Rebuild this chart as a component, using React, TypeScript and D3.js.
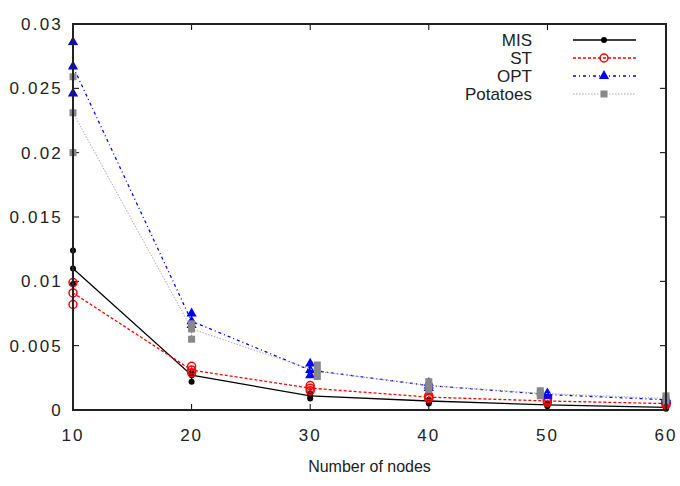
import React from 'react';
import * as d3 from 'd3';

const nodes = [10, 20, 30, 40, 50, 60];
const potatoNodes = [10, 20, 30.6, 40, 49.4, 60];

const misMean = [0.011, 0.0027, 0.0011, 0.0007, 0.0004, 0.0002];
const misLow = [0.0098, 0.0022, 0.0009, 0.0005, 0.0003, 0.0001];
const misHigh = [0.0124, 0.0029, 0.0013, 0.0008, 0.0005, 0.0003];

const stMean = [0.0091, 0.0031, 0.0017, 0.001, 0.0007, 0.0005];
const stLow = [0.0082, 0.0029, 0.0015, 0.0009, 0.0006, 0.0004];
const stHigh = [0.0099, 0.0034, 0.0019, 0.0011, 0.0008, 0.0006];

const optMean = [0.0267, 0.0069, 0.0031, 0.0019, 0.0012, 0.0008];
const optLow = [0.0246, 0.0066, 0.0027, 0.0017, 0.0011, 0.0007];
const optHigh = [0.0286, 0.0075, 0.0036, 0.0021, 0.0013, 0.0009];

const potMean = [0.0231, 0.0063, 0.003, 0.0019, 0.0013, 0.0009];
const potLow = [0.02, 0.0055, 0.0026, 0.0016, 0.0011, 0.0007];
const potHigh = [0.0259, 0.0067, 0.0035, 0.0022, 0.0015, 0.0011];

const xTicks = [10, 20, 30, 40, 50, 60];
const yTicks = [0, 0.005, 0.01, 0.015, 0.02, 0.025, 0.03];

const width = 680;
const height = 486;
const left = 73, right = 666, top = 24, bottom = 410;

const x = d3.scaleLinear().domain([10, 60]).range([left, right]);
const y = d3.scaleLinear().domain([0, 0.03]).range([bottom, top]);

const series = [
  { name: 'MIS', xs: nodes, mean: misMean, low: misLow, high: misHigh, color: '#000000', line: '#000000', dash: null, lw: 1.3, marker: 'dot' },
  { name: 'ST', xs: nodes, mean: stMean, low: stLow, high: stHigh, color: '#ff0000', line: '#ff0000', dash: '3,2', lw: 1.3, marker: 'ring' },
  { name: 'OPT', xs: nodes, mean: optMean, low: optLow, high: optHigh, color: '#0000ff', line: '#0000ff', dash: '3,3,1,3', lw: 1.3, marker: 'tri' },
  { name: 'Potatoes', xs: potatoNodes, mean: potMean, low: potLow, high: potHigh, color: '#888888', line: '#aaaaaa', dash: '1.5,1.5', lw: 1, marker: 'square' },
];

const Marker = ({ type, cx, cy, color }: { type: string; cx: number; cy: number; color: string }) => {
  if (type === 'dot') return <circle cx={cx} cy={cy} r={3} fill={color} />;
  if (type === 'ring') return <circle cx={cx} cy={cy} r={4} fill="none" stroke={color} strokeWidth={1.5} />;
  if (type === 'tri') {
    const s = d3.symbol().type(d3.symbolTriangle).size(45)();
    return <path d={s || ''} transform={`translate(${cx},${cy})`} fill={color} />;
  }
  return <rect x={cx - 3.5} y={cy - 3.5} width={7} height={7} fill={color} />;
};

const fontFamily = '"Liberation Sans", Arial, sans-serif';

export default function App() {
  const line = d3.line<number>();
  return (
    <svg width={width} height={height} style={{ position: 'absolute', left: 0, top: 0, background: '#fff' }}>
      {/* frame ticks */}
      {xTicks.map((t) => (
        <g key={'xt' + t}>
          <line x1={x(t)} x2={x(t)} y1={bottom} y2={bottom - 6} stroke="#000" strokeWidth={1} />
          <line x1={x(t)} x2={x(t)} y1={top} y2={top + 6} stroke="#000" strokeWidth={1} />
          <text x={x(t)} y={bottom + 31} textAnchor="middle" fontSize={17} fontFamily={fontFamily} fill="#222" letterSpacing={2}>
            {t}
          </text>
        </g>
      ))}
      {yTicks.map((t) => (
        <g key={'yt' + t}>
          <line x1={left} x2={left + 6} y1={y(t)} y2={y(t)} stroke="#000" strokeWidth={1} />
          <line x1={right} x2={right - 6} y1={y(t)} y2={y(t)} stroke="#000" strokeWidth={1} />
          <text x={left - 10} y={y(t) + 6} textAnchor="end" fontSize={17} fontFamily={fontFamily} fill="#222" letterSpacing={2.2}>
            {t}
          </text>
        </g>
      ))}
      <text x={(left + right) / 2} y={472} textAnchor="middle" fontSize={16} fontFamily={fontFamily} fill="#222">
        Number of nodes
      </text>

      {series.map((s) => {
        const pts = s.xs.map((v, i) => [x(v), y(s.mean[i])] as [number, number]);
        return (
          <g key={s.name}>
            <path d={line(pts as any) || ''} fill="none" stroke={s.line} strokeWidth={s.lw} strokeDasharray={s.dash || undefined} />
            {s.xs.map((v, i) => (
              <g key={i}>
                <line x1={x(v)} x2={x(v)} y1={y(s.low[i])} y2={y(s.high[i])} stroke={s.color} strokeWidth={1.3} strokeDasharray={s.dash || undefined} />
                <Marker type={s.marker} cx={x(v)} cy={y(s.low[i])} color={s.color} />
                <Marker type={s.marker} cx={x(v)} cy={y(s.high[i])} color={s.color} />
                <Marker type={s.marker} cx={x(v)} cy={y(s.mean[i])} color={s.color} />
              </g>
            ))}
          </g>
        );
      })}

      {/* legend */}
      {series.map((s, i) => {
        const ly = 40 + i * 18;
        return (
          <g key={'lg' + s.name}>
            <text x={532} y={ly + 6} textAnchor="end" fontSize={17} fontFamily={fontFamily} fill="#222">
              {s.name}
            </text>
            <line x1={573} x2={636} y1={ly} y2={ly} stroke={s.line} strokeWidth={s.lw} strokeDasharray={s.dash || undefined} />
            <Marker type={s.marker} cx={604} cy={ly} color={s.color} />
          </g>
        );
      })}

      <rect x={left} y={top} width={right - left} height={bottom - top} fill="none" stroke="#222" strokeWidth={2} />
    </svg>
  );
}
